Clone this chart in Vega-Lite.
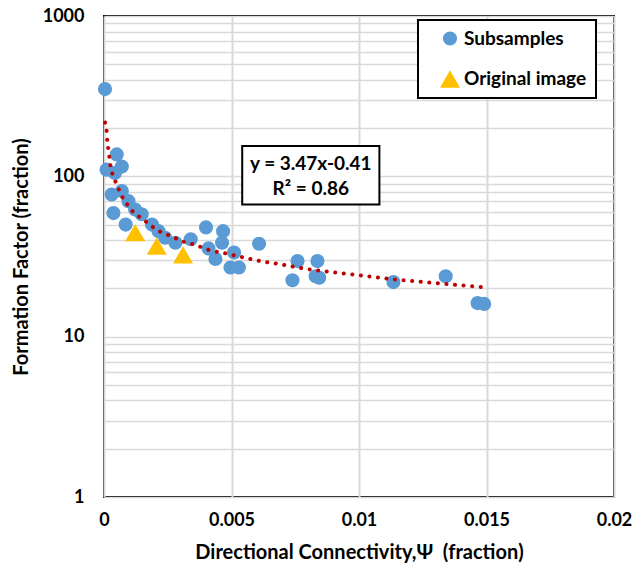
{
  "$schema": "https://vega.github.io/schema/vega-lite/v6.json",
  "width": 510,
  "height": 481,
  "autosize": "none",
  "padding": {"left": 104, "top": 16, "right": 22, "bottom": 79},
  "background": "white",
  "config": {
    "font": "Lato",
    "view": {"stroke": "black", "strokeWidth": 2},
    "axis": {
      "labelFont": "Lato", "labelFontWeight": "bold", "labelFontSize": 18, "labelColor": "black",
      "titleFont": "Lato", "titleFontWeight": "bold", "titleFontSize": 20, "titleColor": "black",
      "ticks": false, "domain": false, "gridColor": "#d9d9d9"
    },
    "legend": {"strokeWidth": 2}
  },
  "datasets": {
    "pts": [
      {"psi": 0.00004, "ff": 350, "series": "Subsamples"},
      {"psi": 0.0005, "ff": 137, "series": "Subsamples"},
      {"psi": 0.0001, "ff": 110, "series": "Subsamples"},
      {"psi": 0.0007, "ff": 115, "series": "Subsamples"},
      {"psi": 0.00043, "ff": 105, "series": "Subsamples"},
      {"psi": 0.0003, "ff": 77, "series": "Subsamples"},
      {"psi": 0.0007, "ff": 81, "series": "Subsamples"},
      {"psi": 0.00096, "ff": 70, "series": "Subsamples"},
      {"psi": 0.00122, "ff": 62, "series": "Subsamples"},
      {"psi": 0.00148, "ff": 58, "series": "Subsamples"},
      {"psi": 0.00037, "ff": 59, "series": "Subsamples"},
      {"psi": 0.00085, "ff": 50, "series": "Subsamples"},
      {"psi": 0.00188, "ff": 50, "series": "Subsamples"},
      {"psi": 0.00214, "ff": 45.5, "series": "Subsamples"},
      {"psi": 0.0024, "ff": 41.4, "series": "Subsamples"},
      {"psi": 0.0028, "ff": 38.5, "series": "Subsamples"},
      {"psi": 0.0034, "ff": 40.5, "series": "Subsamples"},
      {"psi": 0.004, "ff": 48, "series": "Subsamples"},
      {"psi": 0.00467, "ff": 45.5, "series": "Subsamples"},
      {"psi": 0.00463, "ff": 38.5, "series": "Subsamples"},
      {"psi": 0.0041, "ff": 35.5, "series": "Subsamples"},
      {"psi": 0.00437, "ff": 30.5, "series": "Subsamples"},
      {"psi": 0.0051, "ff": 33.5, "series": "Subsamples"},
      {"psi": 0.00496, "ff": 27, "series": "Subsamples"},
      {"psi": 0.00529, "ff": 27, "series": "Subsamples"},
      {"psi": 0.00608, "ff": 38, "series": "Subsamples"},
      {"psi": 0.00759, "ff": 29.6, "series": "Subsamples"},
      {"psi": 0.00739, "ff": 22.5, "series": "Subsamples"},
      {"psi": 0.00837, "ff": 29.6, "series": "Subsamples"},
      {"psi": 0.0083, "ff": 23.8, "series": "Subsamples"},
      {"psi": 0.00844, "ff": 23.3, "series": "Subsamples"},
      {"psi": 0.01135, "ff": 21.9, "series": "Subsamples"},
      {"psi": 0.0134, "ff": 23.8, "series": "Subsamples"},
      {"psi": 0.01465, "ff": 16.2, "series": "Subsamples"},
      {"psi": 0.01491, "ff": 16.0, "series": "Subsamples"},
      {"psi": 0.00122, "ff": 44.5, "series": "Original image"},
      {"psi": 0.00207, "ff": 36.7, "series": "Original image"},
      {"psi": 0.0031, "ff": 32.4, "series": "Original image"}
    ],
    "trend": [
      {"psi": 0.00004, "ff": 216.6},
      {"psi": 0.000106, "ff": 189},
      {"psi": 0.00013, "ff": 166},
      {"psi": 0.00017, "ff": 147.5},
      {"psi": 0.00021, "ff": 131},
      {"psi": 0.00026, "ff": 115},
      {"psi": 0.00034, "ff": 102.5},
      {"psi": 0.00047, "ff": 91.3},
      {"psi": 0.00074, "ff": 73.2},
      {"psi": 0.00096, "ff": 65.2},
      {"psi": 0.00115, "ff": 59.8},
      {"psi": 0.00142, "ff": 55.4},
      {"psi": 0.0017, "ff": 51.4},
      {"psi": 0.00194, "ff": 48},
      {"psi": 0.00224, "ff": 44.9},
      {"psi": 0.00256, "ff": 42.8},
      {"psi": 0.00286, "ff": 40.8},
      {"psi": 0.00319, "ff": 38.8},
      {"psi": 0.00352, "ff": 37.6},
      {"psi": 0.00415, "ff": 34.6},
      {"psi": 0.00483, "ff": 32.9},
      {"psi": 0.00546, "ff": 31.2},
      {"psi": 0.00614, "ff": 29.6},
      {"psi": 0.0068, "ff": 28.5},
      {"psi": 0.00778, "ff": 26.7},
      {"psi": 0.01008, "ff": 24.1},
      {"psi": 0.01146, "ff": 22.7},
      {"psi": 0.01283, "ff": 21.7},
      {"psi": 0.0148, "ff": 20.4}
    ],
    "eqbox": [{"x1": 0.00542, "x2": 0.0108, "y1": 66.8, "y2": 154.6}],
    "eqtext": [
      {"psi": 0.00811, "ff": 118.9, "label": "y = 3.47x-0.41"},
      {"psi": 0.00811, "ff": 83, "label": "R² = 0.86"}
    ]
  },
  "layer": [
    {
      "data": {"name": "eqbox"},
      "mark": {"type": "rect", "fill": "white", "stroke": "black", "strokeWidth": 2},
      "encoding": {
        "x": {"field": "x1", "type": "quantitative", "scale": {"domain": [0, 0.02], "nice": false}, "axis": {"values": [0, 0.005, 0.01, 0.015, 0.02], "title": "Directional Connectivity,Ψ\u00a0 (fraction)", "labelPadding": 14, "titlePadding": 13, "gridWidth": 2, "format": "~g", "labelFlush": false}},
        "x2": {"field": "x2"},
        "y": {"field": "y1", "type": "quantitative", "scale": {"type": "log", "domain": [1, 1000], "nice": false}, "axis": {"values": [1,2,3,4,5,6,7,8,9,10,20,30,40,50,60,70,80,90,100,200,300,400,500,600,700,800,900,1000], "labelExpr": "(datum.value == 1 || datum.value == 10 || datum.value == 100 || datum.value == 1000) ? datum.value : ''", "title": "Formation Factor (fraction)", "labelPadding": 20, "titlePadding": 11, "gridWidth": 1.5}},
        "y2": {"field": "y2"}
      }
    },
    {
      "data": {"name": "eqtext"},
      "mark": {"type": "text", "font": "Lato", "fontWeight": "bold", "fontSize": 19, "color": "black"},
      "encoding": {
        "x": {"field": "psi", "type": "quantitative"},
        "y": {"field": "ff", "type": "quantitative"},
        "text": {"field": "label"}
      }
    },
    {
      "data": {"name": "pts"},
      "mark": {"type": "point", "filled": true, "opacity": 1},
      "encoding": {
        "x": {"field": "psi", "type": "quantitative"},
        "y": {"field": "ff", "type": "quantitative"},
        "color": {"field": "series", "type": "nominal", "scale": {"domain": ["Subsamples", "Original image"], "range": ["#5B9BD5", "#FFC000"]}, "legend": {"title": null, "orient": "none", "legendX": 314, "legendY": 4, "fillColor": "white", "strokeColor": "black", "padding": 9, "symbolOffset": 12, "symbolSize": 150, "labelFont": "Lato", "labelFontWeight": "bold", "labelFontSize": 19, "labelColor": "black", "rowPadding": 19, "labelOffset": 3}},
        "shape": {"field": "series", "type": "nominal", "scale": {"domain": ["Subsamples", "Original image"], "range": ["circle", "triangle-up"]}},
        "size": {"field": "series", "type": "nominal", "scale": {"domain": ["Subsamples", "Original image"], "range": [200, 400]}, "legend": null}
      }
    },
    {
      "data": {"name": "trend"},
      "mark": {"type": "line", "color": "#C00000", "strokeWidth": 4, "strokeDash": [0.1, 8.5], "strokeCap": "round", "interpolate": "monotone"},
      "encoding": {
        "x": {"field": "psi", "type": "quantitative"},
        "y": {"field": "ff", "type": "quantitative"}
      }
    }
  ]
}
